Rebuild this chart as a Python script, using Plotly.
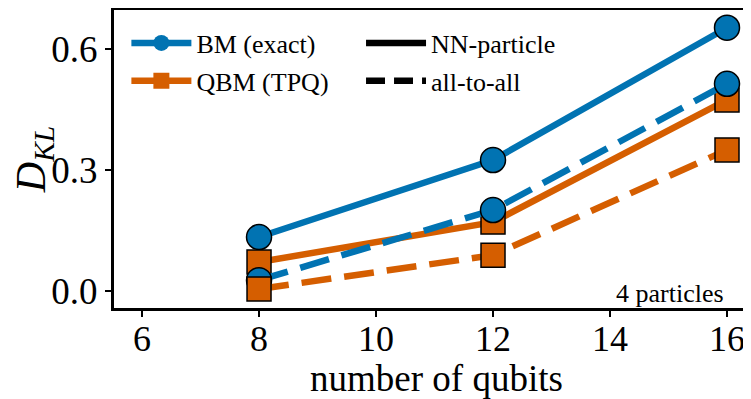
import plotly.graph_objects as go

qubits = [8, 12, 16]
bm_nn = [0.134, 0.325, 0.653]
bm_all = [0.027, 0.201, 0.514]
qbm_nn = [0.072, 0.171, 0.474]
qbm_all = [0.005, 0.089, 0.350]
x_ticks = [6, 8, 10, 12, 14, 16]
y_ticks = [0.0, 0.3, 0.6]

BLUE = "#0173B2"
ORANGE = "#D55E00"
FONT = "Liberation Serif"
DASH = "30px,13px"

fig = go.Figure()

def add(y, color, symbol, dash, size):
    fig.add_trace(go.Scatter(
        x=qubits, y=y, mode="lines+markers", showlegend=False,
        line=dict(color=color, width=6.5, dash=dash),
        marker=dict(symbol=symbol, size=size, color=color,
                    line=dict(color="black", width=1.5)),
    ))

add(bm_nn, BLUE, "circle", "solid", 25)
add(qbm_nn, ORANGE, "square", "solid", 24)
add(bm_all, BLUE, "circle", DASH, 25)
add(qbm_all, ORANGE, "square", DASH, 24)

# legend 1: models
fig.add_trace(go.Scatter(x=[None], y=[None], mode="lines+markers", name="BM (exact)",
                         line=dict(color=BLUE, width=6.5), legendgroup="a",
                         marker=dict(symbol="circle", size=22, color=BLUE), legend="legend"))
fig.add_trace(go.Scatter(x=[None], y=[None], mode="lines+markers", name="QBM (TPQ)",
                         line=dict(color=ORANGE, width=6.5), legendgroup="b",
                         marker=dict(symbol="square", size=21, color=ORANGE), legend="legend"))
# legend 2: line styles
fig.add_trace(go.Scatter(x=[None], y=[None], mode="lines", name="NN-particle", legendgroup="c",
                         line=dict(color="black", width=6.5), legend="legend2"))
fig.add_trace(go.Scatter(x=[None], y=[None], mode="lines", name="all-to-all", legendgroup="d",
                         line=dict(color="black", width=6.5, dash="19px,9px"), legend="legend2"))

fig.add_annotation(text="4 particles", xref="paper", yref="paper", x=0.949, y=0.05,
                   xanchor="right", yanchor="middle", showarrow=False,
                   font=dict(family=FONT, size=26, color="black"))

fig.update_layout(
    width=751, height=391,
    margin=dict(l=106, r=0, t=2, b=91),
    plot_bgcolor="white", paper_bgcolor="white",
    font=dict(family=FONT, color="black"),
    xaxis=dict(range=[5.521, 16.547], tickvals=x_ticks, ticks="outside", ticklen=6,
               tickwidth=1.5, tickcolor="black", showline=True, linewidth=3,
               linecolor="black", mirror=True, showgrid=False, zeroline=False,
               automargin=False, ticklabelstandoff=-9,
               tickfont=dict(family=FONT, size=36),
               title=dict(text="number of qubits", font=dict(family=FONT, size=37), standoff=0)),
    yaxis=dict(range=[-0.042, 0.697], tickvals=y_ticks, tickformat=".1f", ticks="outside",
               ticklen=6, tickwidth=1.5, tickcolor="black", showline=True, linewidth=3,
               linecolor="black", mirror=False, showgrid=False, zeroline=False,
               automargin=False,
               tickfont=dict(family=FONT, size=37),
               title=dict(text="<i>D</i><sub><i>KL</i></sub>", font=dict(family=FONT, size=42), standoff=2)),
    legend=dict(x=0.0192, y=0.968, xanchor="left", yanchor="top", bgcolor="rgba(0,0,0,0)",
                font=dict(family=FONT, size=26), itemwidth=60, tracegroupgap=1),
    legend2=dict(x=0.383, y=0.968, xanchor="left", yanchor="top", bgcolor="rgba(0,0,0,0)",
                 font=dict(family=FONT, size=26), itemwidth=60, tracegroupgap=1),
)

fig.write_html("out.html")
